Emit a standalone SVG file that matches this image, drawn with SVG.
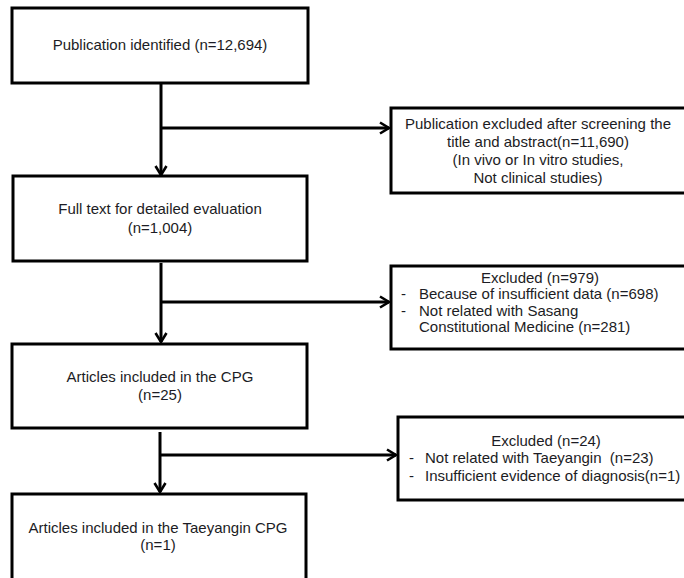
<svg xmlns="http://www.w3.org/2000/svg" width="684" height="578" viewBox="0 0 684 578">
<defs>
<marker id="arr" markerUnits="userSpaceOnUse" markerWidth="16" markerHeight="16" refX="11" refY="7" orient="auto" viewBox="0 0 16 14">
<path d="M2,1.5 L11,7 L2,12.5" fill="none" stroke="#000" stroke-width="2.6"/>
</marker>
</defs>
<style>
.box{fill:#fff;stroke:#000;stroke-width:3}
.t{font-family:"Liberation Sans",Arial,sans-serif;font-size:15px;fill:#1c1c24}
.c{text-anchor:middle}
.ln{fill:none;stroke:#000;stroke-width:3}
</style>
<rect width="684" height="578" fill="#fff"/>
<g id="connectors">
<line class="ln" x1="161" y1="84" x2="161" y2="175" marker-end="url(#arr)"/>
<line class="ln" x1="161" y1="128" x2="389" y2="128" marker-end="url(#arr)"/>
<line class="ln" x1="161" y1="263" x2="161" y2="342" marker-end="url(#arr)"/>
<line class="ln" x1="161" y1="302" x2="389" y2="302" marker-end="url(#arr)"/>
<line class="ln" x1="160" y1="432" x2="160" y2="492" marker-end="url(#arr)"/>
<line class="ln" x1="160" y1="455" x2="396" y2="455" marker-end="url(#arr)"/>
</g>
<g id="n1">
<rect class="box" x="12" y="8" width="296" height="75"/>
<text class="t c" x="160" y="50">Publication identified (n=12,694)</text>
</g>
<g id="n2">
<rect class="box" x="391" y="108" width="300" height="85"/>
<text class="t c" x="538" y="129">Publication excluded after screening the</text>
<text class="t c" x="538" y="147">title and abstract(n=11,690)</text>
<text class="t c" x="538" y="165">(In vivo or In vitro studies,</text>
<text class="t c" x="538" y="183">Not clinical studies)</text>
</g>
<g id="n3">
<rect class="box" x="13" y="176" width="294" height="85"/>
<text class="t c" x="160" y="214">Full text for detailed evaluation</text>
<text class="t c" x="160" y="233">(n=1,004)</text>
</g>
<g id="n4">
<rect class="box" x="391" y="266" width="300" height="83"/>
<text class="t c" x="540" y="282.5">Excluded (n=979)</text>
<text class="t" x="401" y="299">-</text>
<text class="t" x="419" y="299">Because of insufficient data (n=698)</text>
<text class="t" x="401" y="315.5">-</text>
<text class="t" x="419" y="315.5">Not related with Sasang</text>
<text class="t" x="419" y="332">Constitutional Medicine (n=281)</text>
</g>
<g id="n5">
<rect class="box" x="12" y="344" width="295" height="84"/>
<text class="t c" x="160" y="382">Articles included in the CPG</text>
<text class="t c" x="160" y="400">(n=25)</text>
</g>
<g id="n6">
<rect class="box" x="398" y="417" width="300" height="83"/>
<text class="t c" x="546" y="446">Excluded (n=24)</text>
<text class="t" x="409" y="463">-</text>
<text class="t" x="425" y="463" xml:space="preserve">Not related with Taeyangin  (n=23)</text>
<text class="t" x="409" y="481">-</text>
<text class="t" x="425" y="481">Insufficient evidence of diagnosis(n=1)</text>
</g>
<g id="n7">
<rect class="box" x="12" y="494" width="294" height="100"/>
<text class="t c" x="158" y="533">Articles included in the Taeyangin CPG</text>
<text class="t c" x="158" y="550">(n=1)</text>
</g>
</svg>
